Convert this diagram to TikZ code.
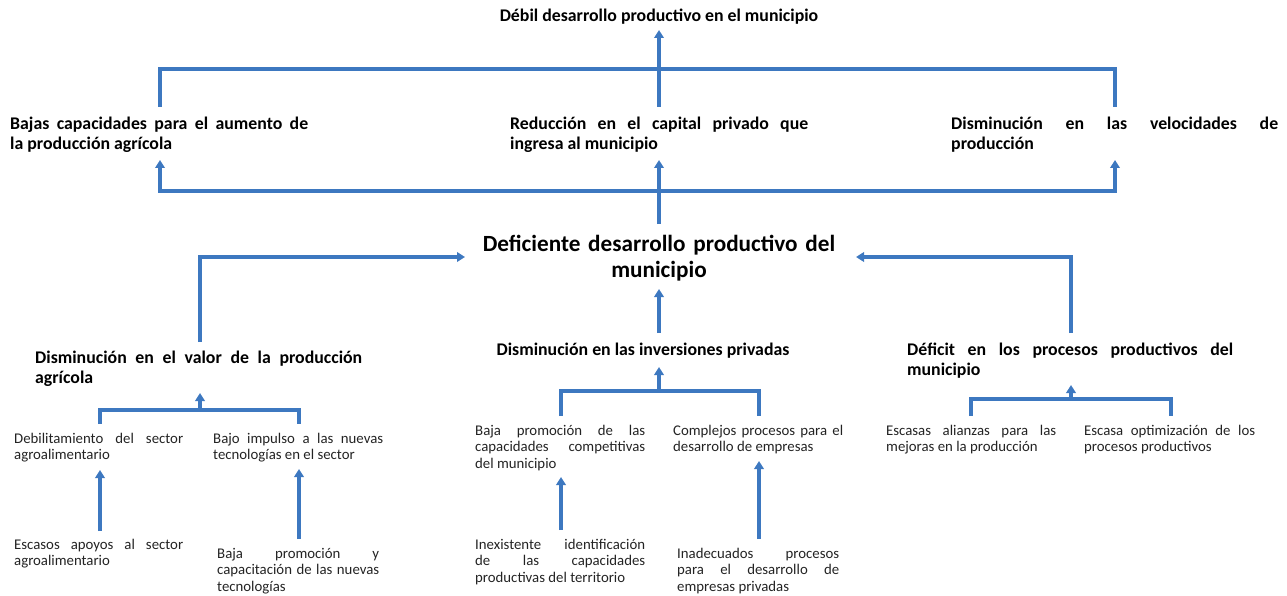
\documentclass[tikz,border=0pt]{standalone}
\usepackage{fontspec}
\setmainfont{Carlito}
\usetikzlibrary{arrows.meta}
\definecolor{lineblue}{RGB}{61,120,192}
\definecolor{txt}{RGB}{35,35,35}
\tikzset{
  conn/.style={draw=lineblue, line width=3.1pt},
  arr/.style={conn, -{Triangle[width=9.5pt,length=8pt]}},
  arrtwo/.style={conn, {Triangle[width=9.5pt,length=8pt]}-{Triangle[width=9.5pt,length=8pt]}},
  boldtxt/.style={font=\bfseries\fontsize{17.8}{20}\selectfont, inner sep=0pt, anchor=base west, align=justify},
  regtxt/.style={font=\fontsize{14.8}{16.6}\selectfont, text=txt, inner sep=0pt, anchor=base west, align=justify}
}
\begin{document}
\begin{tikzpicture}[x=1pt,y=-1pt]
\useasboundingbox (0,0) rectangle (1287,596);

% ---------- texts ----------
\node[boldtxt, anchor=base] (title) at (659,22) {Débil desarrollo productivo en el municipio};

\node[boldtxt, text width=298pt] (bajas) at (10,130) {Bajas capacidades para el aumento de\linebreak la producción agrícola};
\node[boldtxt, text width=298pt] (reduc) at (510,130) {Reducción en el capital privado que\linebreak ingresa al municipio};
\node[boldtxt, text width=327pt] (vel) at (951,130) {Disminución en las velocidades de\linebreak producción};

\node[font=\bfseries\fontsize{23.2}{26}\selectfont, inner sep=0pt, anchor=base, align=center, text width=380pt] (def) at (659,251) {Deficiente desarrollo productivo del\\ municipio};

\node[boldtxt, text width=327pt] (valor) at (35,363) {Disminución en el valor de la producción\linebreak agrícola};
\node[boldtxt, anchor=base] (inv) at (643,355) {Disminución en las inversiones privadas};
\node[boldtxt, text width=326pt] (defi) at (907,355) {Déficit en los procesos productivos del\linebreak municipio};

\node[regtxt, text width=169pt] (debil) at (14,443) {Debilitamiento del sector\linebreak agroalimentario};
\node[regtxt, text width=170pt] (impulso) at (213,443) {Bajo impulso a las nuevas\linebreak tecnologías en el sector};
\node[regtxt, text width=170pt] (promo) at (475,435) {Baja promoción de las\linebreak capacidades competitivas\linebreak del municipio};
\node[regtxt, text width=170pt] (compl) at (673,435) {Complejos procesos para el\linebreak desarrollo de empresas};
\node[regtxt, text width=170pt] (alian) at (886,435) {Escasas alianzas para las\linebreak mejoras en la producción};
\node[regtxt, text width=171pt] (optim) at (1084,435) {Escasa optimización de los\linebreak procesos productivos};

\node[regtxt, text width=169pt] (apoyos) at (14,549) {Escasos apoyos al sector\linebreak agroalimentario};
\node[regtxt, text width=162pt] (capac) at (217,558) {Baja promoción y\linebreak capacitación de las nuevas\linebreak tecnologías};
\node[regtxt, text width=170pt] (inex) at (475,549) {Inexistente identificación\linebreak de las capacidades\linebreak productivas del territorio};
\node[regtxt, text width=162pt] (inad) at (677,558) {Inadecuados procesos\linebreak para el desarrollo de\linebreak empresas privadas};

% ---------- connector points ----------
\coordinate (titleIn) at (659,30);
\coordinate (bajasTop) at (160,107);
\coordinate (reducTop) at (659,107);
\coordinate (velTop) at (1115,107);
\coordinate (topL) at (160,69);
\coordinate (topR) at (1115,69);

\coordinate (bajasIn) at (160,160);
\coordinate (reducIn) at (659,160);
\coordinate (velIn) at (1115,160);
\coordinate (botL) at (160,191);
\coordinate (botR) at (1115,191);
\coordinate (defTop) at (659,224);

\coordinate (defInL) at (465,257);
\coordinate (defInR) at (856,257);
\coordinate (defInB) at (659,289);
\coordinate (valorTop) at (200,342);
\coordinate (valorCorner) at (200,257);
\coordinate (defiTop) at (1071,333);
\coordinate (defiCorner) at (1071,257);
\coordinate (invTop) at (659,333);

\coordinate (valorIn) at (200,393);
\coordinate (valorJ) at (200,410);
\coordinate (debilTop) at (100,424);
\coordinate (impulsoTop) at (299,424);
\coordinate (invIn) at (659,367);
\coordinate (invJ) at (659,391);
\coordinate (promoTop) at (561,416);
\coordinate (complTop) at (759,416);
\coordinate (defiIn) at (1071,385);
\coordinate (defiJ) at (1071,399);
\coordinate (alianTop) at (971,416);
\coordinate (optimTop) at (1171,416);

\coordinate (debilIn) at (100,470);
\coordinate (apoyosTop) at (100,531);
\coordinate (impulsoIn) at (299,469);
\coordinate (capacTop) at (299,539);
\coordinate (promoIn) at (561,477);
\coordinate (inexTop) at (561,530);
\coordinate (complIn) at (759,461);
\coordinate (inadTop) at (759,539);

% ---------- connectors ----------
\draw[conn] (bajasTop) -- (topL) -- (topR) -- (velTop);
\draw[arr] (reducTop) -- (titleIn);

\draw[arrtwo] (bajasIn) -- (botL) -- (botR) -- (velIn);
\draw[arr] (defTop) -- (reducIn);

\draw[arr] (valorTop) -- (valorCorner) -- (defInL);
\draw[arr] (defiTop) -- (defiCorner) -- (defInR);
\draw[arr] (invTop) -- (defInB);

\draw[conn] (debilTop) |- (valorJ) -| (impulsoTop);
\draw[arr] (valorJ) -- (valorIn);
\draw[conn] (promoTop) |- (invJ) -| (complTop);
\draw[arr] (invJ) -- (invIn);
\draw[conn] (alianTop) |- (defiJ) -| (optimTop);
\draw[arr] (defiJ) -- (defiIn);

\draw[arr] (apoyosTop) -- (debilIn);
\draw[arr] (capacTop) -- (impulsoIn);
\draw[arr] (inexTop) -- (promoIn);
\draw[arr] (inadTop) -- (complIn);
\end{tikzpicture}
\end{document}
